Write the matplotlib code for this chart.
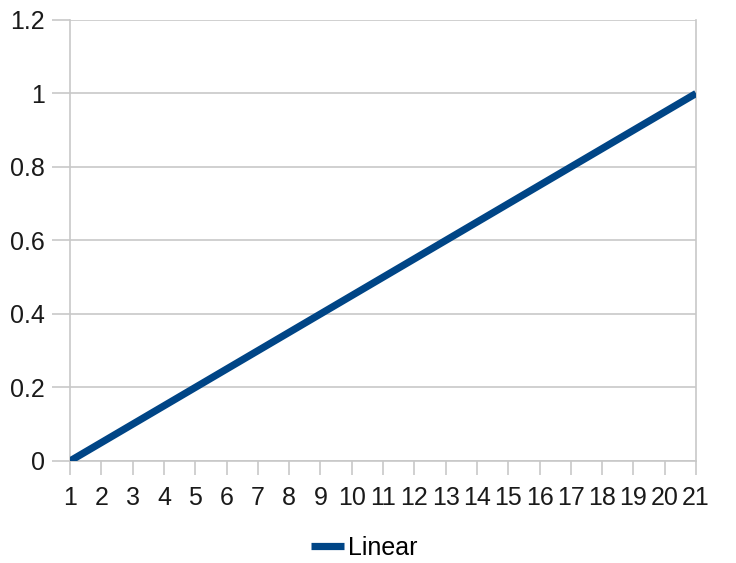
import matplotlib.pyplot as plt

# Data
x_labels = ["1", "2", "3", "4", "5", "6", "7", "8", "9", "10", "11",
            "12", "13", "14", "15", "16", "17", "18", "19", "20", "21"]
x_pos = [1, 2, 3, 4, 5, 6, 7, 8, 9, 10, 11, 12, 13, 14, 15, 16, 17, 18, 19, 20, 21]
linear = [0, 0.05, 0.1, 0.15, 0.2, 0.25, 0.3, 0.35, 0.4, 0.45, 0.5,
          0.55, 0.6, 0.65, 0.7, 0.75, 0.8, 0.85, 0.9, 0.95, 1.0]
y_ticks = [0, 0.2, 0.4, 0.6, 0.8, 1, 1.2]
y_labels = ["0", "0.2", "0.4", "0.6", "0.8", "1", "1.2"]

plt.rcParams["font.family"] = ["Liberation Sans", "DejaVu Sans"]

fig = plt.figure(figsize=(7.36, 5.63), dpi=100)
ax = fig.add_axes([0.0951, 0.1812, 0.8506, 0.7833])

grid_c = "#c8c8c8"
ax.plot(x_pos, linear, color="#004586", linewidth=5.2, label="Linear",
        solid_capstyle="butt", zorder=3)

ax.set_xlim(1, 21)
ax.set_ylim(0, 1.2)
ax.set_xticks(x_pos)
ax.set_xticklabels(x_labels)
ax.set_yticks(y_ticks)
ax.set_yticklabels(y_labels)
ax.yaxis.grid(True, color=grid_c, linewidth=1.2)

for s in ["left", "bottom", "right"]:
    ax.spines[s].set_color(grid_c)
    ax.spines[s].set_linewidth(1.2)
ax.spines["top"].set_visible(False)

ax.tick_params(axis="both", colors=grid_c, width=1.2, length=10,
               labelcolor="#1a1a1a", labelsize=18)
ax.tick_params(axis="x", pad=8)
ax.tick_params(axis="y", length=13, pad=5)

fig.legend(loc="center", bbox_to_anchor=(0.495, 0.027), frameon=False,
           fontsize=18, handlelength=1.3, handletextpad=0.15)

fig.savefig("out.png", dpi=100)
